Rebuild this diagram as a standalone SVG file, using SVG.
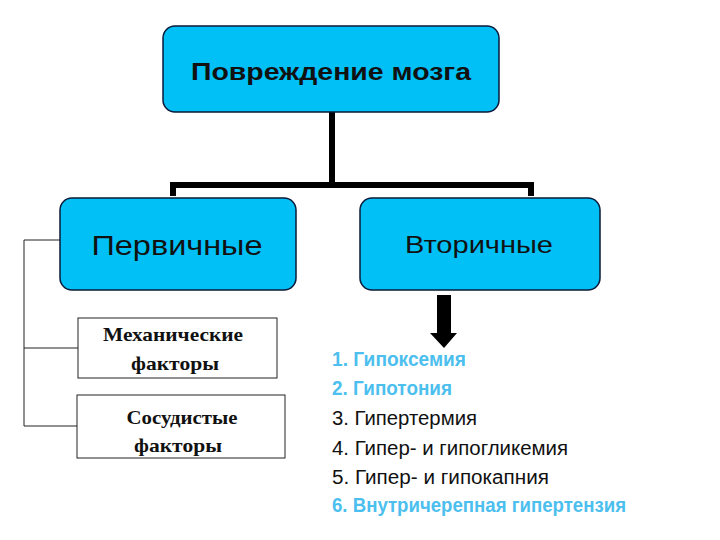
<svg xmlns="http://www.w3.org/2000/svg" width="720" height="540" viewBox="0 0 720 540">
<style>
.box{fill:#00c0f6;stroke:#0a1a3a;stroke-width:1.5}
.wbox{fill:#fff;stroke:#222;stroke-width:1}
.thick{stroke:#000;stroke-width:6;fill:none}
.thin{stroke:#222;stroke-width:1;fill:none}
.sans{font-family:"Liberation Sans",Arial,sans-serif}
.serif{font-family:"Liberation Serif","DejaVu Serif",serif;font-weight:bold;font-size:19px;fill:#111}
.li{font-family:"Liberation Sans",Arial,sans-serif;font-size:20px}
.blue{fill:#4cbfee;font-weight:bold}
.blk{fill:#111}
</style>
<rect width="720" height="540" fill="#fff"/>
<g id="connectors">
<path class="thick" d="M332 112 V185 M173 196 V185 H531 V196"/>
<path class="thin" d="M60 240 H24 V426 H78 M24 348 H78"/>
<path d="M437 295 H451 V333 H457 L444 348 L430 333 H437 Z" fill="#000"/>
</g>
<g id="n-root">
<rect class="box" x="163" y="26" width="336" height="86" rx="12"/>
<text class="sans" x="331" y="80" font-size="23" font-weight="bold" text-anchor="middle" fill="#111" textLength="280" lengthAdjust="spacingAndGlyphs">Повреждение мозга</text>
</g>
<g id="n-primary">
<rect class="box" x="60" y="198" width="236" height="92" rx="12"/>
<text class="sans" x="177" y="255" font-size="28" text-anchor="middle" fill="#111" textLength="171" lengthAdjust="spacingAndGlyphs">Первичные</text>
</g>
<g id="n-secondary">
<rect class="box" x="360" y="198" width="240" height="92" rx="12"/>
<text class="sans" x="479" y="253" font-size="24" text-anchor="middle" fill="#111" textLength="148" lengthAdjust="spacingAndGlyphs">Вторичные</text>
</g>
<g id="n-mech">
<rect class="wbox" x="78" y="318" width="199" height="60"/>
<text class="serif" x="173" y="341" text-anchor="middle" textLength="140" lengthAdjust="spacingAndGlyphs">Механические</text>
<text class="serif" x="175" y="370" text-anchor="middle" textLength="88" lengthAdjust="spacingAndGlyphs">факторы</text>
</g>
<g id="n-vasc">
<rect class="wbox" x="77" y="395" width="208" height="63"/>
<text class="serif" x="182" y="424" text-anchor="middle" textLength="111" lengthAdjust="spacingAndGlyphs">Сосудистые</text>
<text class="serif" x="178" y="452" text-anchor="middle" textLength="88" lengthAdjust="spacingAndGlyphs">факторы</text>
</g>
<g id="list">
<text class="li blue" x="332" y="366" textLength="134" lengthAdjust="spacingAndGlyphs">1. Гипоксемия</text>
<text class="li blue" x="332" y="395" textLength="120" lengthAdjust="spacingAndGlyphs">2. Гипотония</text>
<text class="li blk" x="332" y="425" textLength="145" lengthAdjust="spacingAndGlyphs">3. Гипертермия</text>
<text class="li blk" x="332" y="455" textLength="236" lengthAdjust="spacingAndGlyphs">4. Гипер- и гипогликемия</text>
<text class="li blk" x="332" y="484" textLength="217" lengthAdjust="spacingAndGlyphs">5. Гипер- и гипокапния</text>
<text class="li blue" x="332" y="512" textLength="294" lengthAdjust="spacingAndGlyphs">6. Внутричерепная гипертензия</text>
</g>
</svg>
